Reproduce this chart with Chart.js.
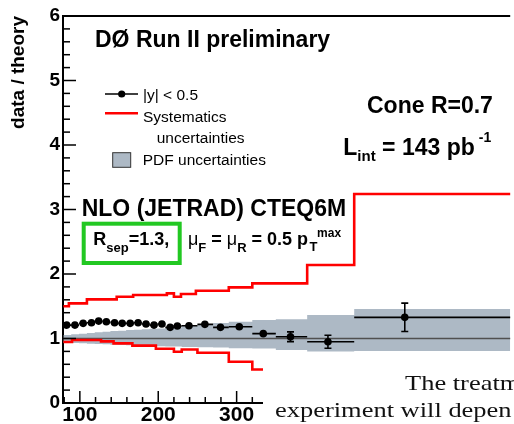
<!DOCTYPE html>
<html><head><meta charset="utf-8">
<script src="https://cdn.jsdelivr.net/npm/chart.js@4/dist/chart.umd.min.js"></script>
<style>html,body{margin:0;padding:0;background:#fff;overflow:hidden}canvas{display:block}</style>
</head><body>
<canvas id="c" width="514" height="424"></canvas>
<script>
// ---- data ----
const ptCenters   = [83.2, 93.7, 104.2, 114.8, 124, 133.8, 144.3, 154, 164.2, 174.3, 184.4, 194.6, 204.7, 215.2, 224.4, 239.2, 259.5, 279.4, 303.4, 334, 368.7, 416.5, 514.5];
const ratioValues = [1.208, 1.208, 1.235, 1.244, 1.27, 1.26, 1.244, 1.235, 1.235, 1.244, 1.224, 1.208, 1.224, 1.173, 1.193, 1.197, 1.219, 1.173, 1.182, 1.075, 1.027, 0.95, 1.328];
const ratioErrors = [0.01, 0.01, 0.01, 0.01, 0.01, 0.01, 0.01, 0.012, 0.012, 0.012, 0.013, 0.014, 0.015, 0.016, 0.017, 0.018, 0.02, 0.025, 0.03, 0.045, 0.075, 0.1, 0.22];
const binEdges    = [79, 89, 99, 109, 119, 129, 139, 149, 159, 169, 179, 189, 199, 209, 219, 230, 250, 270, 290, 320, 350, 390, 450, 700];
const pdfUpper    = [1.055, 1.065, 1.075, 1.085, 1.095, 1.105, 1.115, 1.12, 1.13, 1.135, 1.145, 1.15, 1.155, 1.165, 1.175, 1.20, 1.22, 1.24, 1.26, 1.286, 1.30, 1.363, 1.456];
const pdfLower    = [0.93, 0.93, 0.925, 0.92, 0.915, 0.91, 0.905, 0.90, 0.895, 0.89, 0.885, 0.88, 0.88, 0.875, 0.875, 0.87, 0.865, 0.86, 0.85, 0.846, 0.82, 0.80, 0.806];
const sysUpperEdges = [79, 86, 109, 147, 168, 211, 220, 229, 248, 290, 320, 390, 450, 700];
const sysUpper      = [1.50, 1.545, 1.607, 1.648, 1.674, 1.70, 1.648, 1.69, 1.741, 1.793, 1.855, 2.14, 3.24];
const sysLowerEdges = [79, 90, 127, 143, 167, 197, 220, 230, 250, 290, 320, 350];
const sysLower      = [0.945, 0.977, 0.955, 0.925, 0.89, 0.84, 0.795, 0.83, 0.78, 0.64, 0.52];
const yTickLabels = [0, 1, 2, 3, 4, 5, 6];
const xTickLabels = [100, 200, 300];
const xRange = [78.5, 649];
const yRange = [0, 6];

const BAND = '#adb9c5';
const SANS = '"Liberation Sans", Arial, sans-serif';

function stepPoints(edges, vals) {
  const pts = vals.map((v, i) => ({x: edges[i], y: v}));
  pts.push({x: edges[edges.length - 1], y: vals[vals.length - 1]});
  return pts;
}

function rich(ctx, x, y, parts) {
  let cx = x;
  for (const p of parts) {
    ctx.font = (p.w || 'bold') + ' ' + p.s + 'px ' + SANS;
    const px = cx + (p.dx || 0);
    ctx.fillText(p.t, px, y + (p.dy || 0));
    if (!p.keep) cx = px + ctx.measureText(p.t).width;
  }
}

const annot = {
  id: 'annot',
  afterDatasetsDraw(chart) {
    const {ctx, chartArea: a, scales: {x, y}} = chart;
    ctx.save();
    ctx.beginPath(); ctx.rect(a.left, a.top, a.right - a.left, a.bottom - a.top); ctx.clip();
    ctx.strokeStyle = '#000'; ctx.lineWidth = 1.6;
    ptCenters.forEach((c, i) => {
      const yp = y.getPixelForValue(ratioValues[i]);
      const x0 = x.getPixelForValue(binEdges[i]), x1 = x.getPixelForValue(binEdges[i + 1]);
      ctx.beginPath(); ctx.moveTo(x0, yp); ctx.lineTo(x1, yp); ctx.stroke();
      const xp = x.getPixelForValue(c);
      const yt = y.getPixelForValue(ratioValues[i] + ratioErrors[i]);
      const yb = y.getPixelForValue(ratioValues[i] - ratioErrors[i]);
      if (yb - yt > 7) {
        ctx.beginPath(); ctx.moveTo(xp, yt); ctx.lineTo(xp, yb);
        ctx.moveTo(xp - 3.5, yt); ctx.lineTo(xp + 3.5, yt);
        ctx.moveTo(xp - 3.5, yb); ctx.lineTo(xp + 3.5, yb);
        ctx.stroke();
      }
    });
    ctx.restore();
  },
  afterDraw(chart) {
    const {ctx, chartArea: a, scales: {x, y}} = chart;
    ctx.save();
    // top frame line
    ctx.strokeStyle = '#000'; ctx.lineWidth = 2;
    ctx.beginPath(); ctx.moveTo(a.left - 1, a.top); ctx.lineTo(a.right, a.top); ctx.stroke();
    // inward ticks
    ctx.lineWidth = 1.5;
    for (let k = 0; k <= 30; k++) {
      const v = yRange[0] + k * 0.2;
      const yp = y.getPixelForValue(v);
      const len = (k % 5 === 0) ? 13 : 7;
      ctx.beginPath(); ctx.moveTo(a.left, yp); ctx.lineTo(a.left + len, yp); ctx.stroke();
    }
    for (let v = 80; v <= 640; v += 20) {
      const xp = x.getPixelForValue(v);
      const len = (v % 100 === 0) ? 12 : 6;
      ctx.beginPath(); ctx.moveTo(xp, a.bottom); ctx.lineTo(xp, a.bottom - len); ctx.stroke();
    }
    // legend
    ctx.fillStyle = '#000';
    ctx.lineWidth = 1.5; ctx.strokeStyle = '#000';
    ctx.beginPath(); ctx.moveTo(105, 94); ctx.lineTo(138, 94); ctx.stroke();
    ctx.beginPath(); ctx.arc(121.7, 94, 3.6, 0, Math.PI * 2); ctx.fill();
    ctx.strokeStyle = '#ff0000'; ctx.lineWidth = 2.5;
    ctx.beginPath(); ctx.moveTo(105, 113.3); ctx.lineTo(138, 113.3); ctx.stroke();
    ctx.fillStyle = BAND; ctx.fillRect(112.7, 152.7, 18, 14.6);
    ctx.strokeStyle = '#333'; ctx.lineWidth = 1; ctx.strokeRect(112.7, 152.7, 18, 14.6);
    ctx.fillStyle = '#000';
    ctx.font = '15.5px ' + SANS; ctx.textBaseline = 'alphabetic'; ctx.textAlign = 'left';
    ctx.fillText('|y| < 0.5', 143, 100);
    ctx.fillText('Systematics', 143, 121.7);
    ctx.fillText('uncertainties', 156.7, 143.3);
    ctx.fillText('PDF uncertainties', 142.7, 165);
    // titles
    ctx.font = 'bold 23px ' + SANS;
    ctx.fillText('DØ Run II preliminary', 95, 46.7);
    ctx.fillText('NLO (JETRAD) CTEQ6M', 81.7, 216);
    ctx.fillText('Cone R=0.7', 367, 113.3);
    rich(ctx, 343.3, 155, [
      {t: 'L', s: 23}, {t: 'int', s: 15, dy: 6}, {t: ' = 143 pb', s: 23}, {t: '-1', s: 14, dy: -13.5, dx: 4}
    ]);
    // green box
    ctx.strokeStyle = 'rgb(34,200,34)'; ctx.lineWidth = 4;
    ctx.strokeRect(83.7, 223.7, 96, 39.3);
    ctx.fillStyle = '#000';
    rich(ctx, 93.3, 245, [{t: 'R', s: 18}, {t: 'sep', s: 13, dy: 6.5}, {t: '=1.3,', s: 18}]);
    rich(ctx, 188, 245, [
      {t: 'μ', s: 18, w: 'normal'}, {t: 'F', s: 13, dy: 6.5},
      {t: ' = ', s: 18}, {t: 'μ', s: 18, w: 'normal'}, {t: 'R', s: 13, dy: 6.5},
      {t: ' = 0.5 p', s: 18}, {t: 'T', s: 13, dy: 5.5, keep: true, dx: 1.5}, {t: 'max', s: 12, dy: -8, dx: 9}
    ]);
    // overlaid page text (white patch)
    ctx.fillStyle = '#fff';
    ctx.fillRect(263, 358, 514 - 263, 424 - 358);
    ctx.fillStyle = '#111';
    ctx.font = '22px "Liberation Serif", "Times New Roman", serif';
    const sx = 119 / ctx.measureText('experiment').width;
    ctx.save(); ctx.translate(405, 390); ctx.scale(sx, 1); ctx.fillText('The treatm', 0, 0); ctx.restore();
    ctx.save(); ctx.translate(275, 416.7); ctx.scale(sx, 1); ctx.fillText('experiment will depen', 0, 0); ctx.restore();
    ctx.restore();
  }
};

const dataPts = ptCenters.map((c, i) => ({x: c, y: ratioValues[i]}));

new Chart(document.getElementById('c'), {
  type: 'scatter',
  data: {
    datasets: [
      {label: '|y| < 0.5', data: dataPts, showLine: false, pointRadius: 3.8, pointHoverRadius: 3.8,
       backgroundColor: '#000', borderColor: '#000', borderWidth: 0, order: 0},
      {label: 'sys up', type: 'line', data: stepPoints(sysUpperEdges, sysUpper), stepped: true,
       borderColor: '#ff0000', borderWidth: 2.6, pointRadius: 0, fill: false, order: 1},
      {label: 'sys down', type: 'line', data: stepPoints(sysLowerEdges, sysLower), stepped: true,
       borderColor: '#ff0000', borderWidth: 2.6, pointRadius: 0, fill: false, order: 1},
      {label: 'unity', type: 'line', data: [{x: xRange[0], y: 1}, {x: 700, y: 1}],
       borderColor: '#505050', borderWidth: 1.6, pointRadius: 0, fill: false, order: 2},
      {label: 'PDF up', type: 'line', data: stepPoints(binEdges, pdfUpper), stepped: true,
       borderColor: 'rgba(0,0,0,0)', borderWidth: 0, pointRadius: 0, fill: '+1', backgroundColor: BAND, order: 3},
      {label: 'PDF down', type: 'line', data: stepPoints(binEdges, pdfLower), stepped: true,
       borderColor: 'rgba(0,0,0,0)', borderWidth: 0, pointRadius: 0, fill: false, order: 3}
    ]
  },
  options: {
    responsive: false, animation: false, devicePixelRatio: 1,
    layout: {padding: {top: 16, left: 0, right: 0, bottom: 0}},
    plugins: {legend: {display: false}, tooltip: {enabled: false}},
    scales: {
      x: {
        type: 'linear', min: xRange[0], max: xRange[1],
        afterBuildTicks: s => { s.ticks = xTickLabels.map(v => ({value: v})); },
        afterFit: s => { s.height = 21; },
        grid: {display: false, drawTicks: false},
        border: {display: true, color: '#000', width: 2},
        ticks: {color: '#000', font: {family: SANS, size: 21, weight: 'bold'}, padding: 0, maxRotation: 0, autoSkip: false}
      },
      y: {
        type: 'linear', min: yRange[0], max: yRange[1],
        afterBuildTicks: s => { s.ticks = yTickLabels.map(v => ({value: v})); },
        afterFit: s => { s.width = 63; },
        grid: {display: false, drawTicks: false},
        border: {display: true, color: '#000', width: 2},
        ticks: {color: '#000', font: {family: SANS, size: 19, weight: 'bold'}, padding: 3},
        title: {display: true, text: 'data / theory', align: 'end', color: '#000',
                font: {family: SANS, size: 19, weight: 'bold'}, padding: {top: 7, bottom: 0}}
      }
    }
  },
  plugins: [annot]
});
</script>
</body></html>
